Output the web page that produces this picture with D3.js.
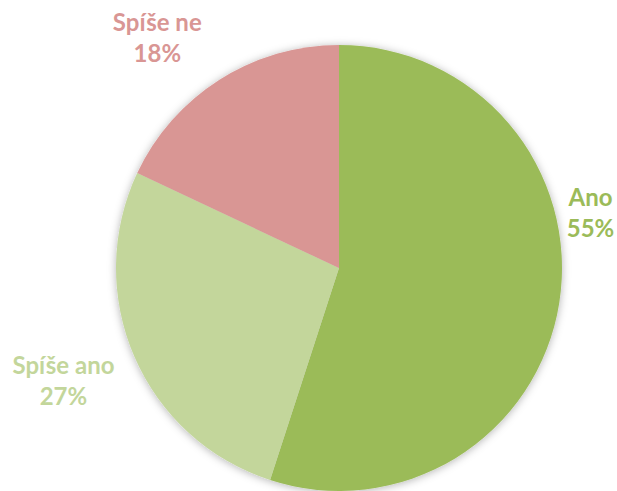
<!DOCTYPE html>
<html>
<head>
<meta charset="utf-8">
<script src="https://cdn.jsdelivr.net/npm/d3@7"></script>
<style>
  html, body { margin: 0; padding: 0; background: #ffffff; }
  svg { display: block; }
</style>
</head>
<body>
<script>
// Survey answers and their shares (%)
const categories = ["Ano", "Spíše ano", "Spíše ne"];
const shares = [55, 27, 18];
const colors = ["#9BBB59", "#C3D69B", "#D99694"];

const width = 617, height = 491;
const cx = 339, cy = 268, radius = 223;

const svg = d3.select("body").append("svg")
  .attr("width", width)
  .attr("height", height);

// soft shadow around the pie
const defs = svg.append("defs");
const f = defs.append("filter").attr("id", "pieShadow")
  .attr("x", "-20%").attr("y", "-20%").attr("width", "140%").attr("height", "140%");
f.append("feDropShadow")
  .attr("dx", 0).attr("dy", 1)
  .attr("stdDeviation", 4)
  .attr("flood-color", "#000")
  .attr("flood-opacity", 0.3);

const data = categories.map((c, i) => ({ name: c, value: shares[i], color: colors[i] }));

const pie = d3.pie().value(d => d.value).sort(null);
const arcs = pie(data);

const arc = d3.arc().innerRadius(0).outerRadius(radius);
const labelArc = d3.arc().innerRadius(285).outerRadius(285);

const g = svg.append("g").attr("transform", `translate(${cx},${cy})`);

g.append("g").attr("filter", "url(#pieShadow)")
  .selectAll("path")
  .data(arcs)
  .join("path")
  .attr("d", arc)
  .attr("fill", d => d.data.color);

// label offsets from the outer label ring
const nudges = { "Ano": [-30, -91], "Spíše ano": [-14, 8], "Spíše ne": [-29, 19] };

const labels = g.selectAll("text.lbl")
  .data(arcs)
  .join("text")
  .attr("class", "lbl")
  .attr("text-anchor", "middle")
  .attr("font-family", "Lato, 'Open Sans', sans-serif")
  .attr("font-weight", "bold")
  .attr("font-size", 24)
  .attr("fill", d => d.data.color)
  .attr("transform", d => {
    const [x, y] = labelArc.centroid(d);
    const n = nudges[d.data.name];
    return `translate(${x + n[0]},${y + n[1]})`;
  });

labels.append("tspan").attr("x", 0).attr("y", -15.5).text(d => d.data.name);
labels.append("tspan").attr("x", 0).attr("y", 15.5).text(d => d.data.value + "%");
</script>
</body>
</html>
